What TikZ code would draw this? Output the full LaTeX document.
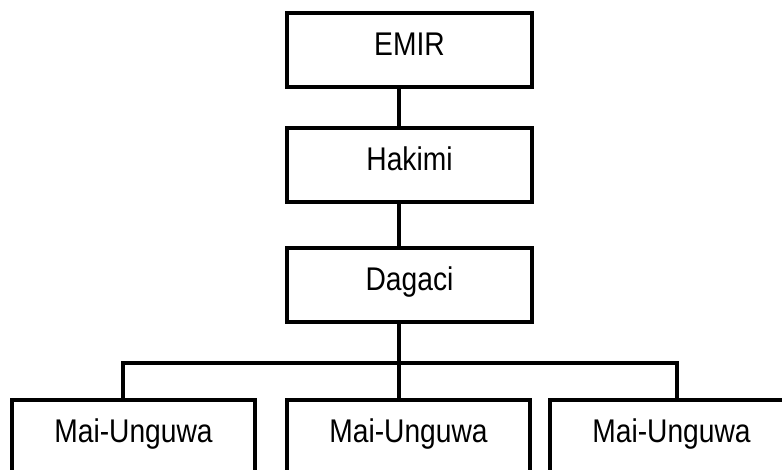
\documentclass[tikz,border=0pt]{standalone}
\usepackage{fontspec}
\setmainfont[FakeStretch=0.86]{Liberation Sans}
\begin{document}
\begin{tikzpicture}[x=1pt,y=1pt,
  box/.style={draw=black, line width=4pt, minimum width=245pt, minimum height=74pt,
    inner sep=0pt, outer sep=0pt, text height=24pt, text depth=12.5pt,
    font=\fontsize{32.8}{38}\selectfont},
  lowbox/.style={box, minimum width=243pt},
  conn/.style={draw=black, line width=4pt, line join=miter}]
\useasboundingbox (0,0) rectangle (782,469);
\clip (0,0) rectangle (782,469);
\node[box] (emir) at (409.5,419) {EMIR};
\node[box] (hakimi) at (409.5,304) {Hakimi};
\node[box] (dagaci) at (409.5,184) {Dagaci};
\node[lowbox] (m1) at (133.5,32) {Mai-Unguwa};
\node[lowbox] (m2) at (408.5,32) {Mai-Unguwa};
\node[lowbox] (m3) at (671.5,32) {Mai-Unguwa};
\coordinate (b1) at (123,106);
\coordinate (b2) at (399,106);
\coordinate (b3) at (677,106);
\draw[conn] (emir.south -| b2) -- (hakimi.north -| b2);
\draw[conn] (hakimi.south -| b2) -- (dagaci.north -| b2);
\draw[conn] (dagaci.south -| b2) -- (m2.north -| b2);
\draw[conn] (m1.north -| b1) -- (b1) -- (b3) -- (m3.north -| b3);
\end{tikzpicture}
\end{document}
